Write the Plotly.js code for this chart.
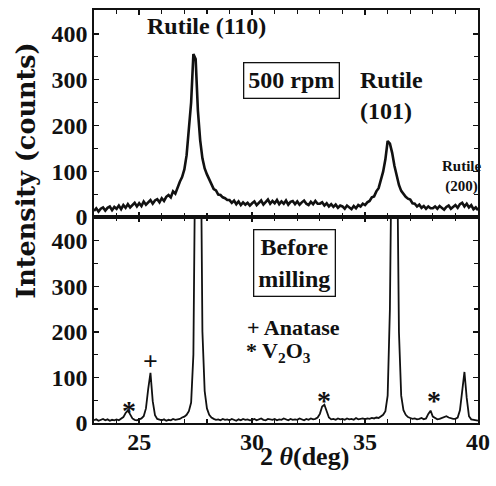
<!DOCTYPE html>
<html>
<head>
<meta charset="utf-8">
<script src="https://cdn.plot.ly/plotly-3.0.1.min.js"></script>
<style>html,body{margin:0;padding:0;background:#fff;}#chart{width:496px;height:486px;}</style>
</head>
<body>
<div id="chart"></div>
<script>
// 2-theta sampling grid (deg)
const twoTheta = [
  23.0,23.1,23.2,23.3,23.4,23.5,23.6,23.7,23.8,23.9,
  24.0,24.1,24.2,24.3,24.4,24.5,24.6,24.7,24.8,24.9,
  25.0,25.1,25.2,25.3,25.4,25.5,25.6,25.7,25.8,25.9,
  26.0,26.1,26.2,26.3,26.4,26.5,26.6,26.7,26.8,26.9,
  27.0,27.1,27.2,27.3,27.4,27.5,27.6,27.7,27.8,27.9,
  28.0,28.1,28.2,28.3,28.4,28.5,28.6,28.7,28.8,28.9,
  29.0,29.1,29.2,29.3,29.4,29.5,29.6,29.7,29.8,29.9,
  30.0,30.1,30.2,30.3,30.4,30.5,30.6,30.7,30.8,30.9,
  31.0,31.1,31.2,31.3,31.4,31.5,31.6,31.7,31.8,31.9,
  32.0,32.1,32.2,32.3,32.4,32.5,32.6,32.7,32.8,32.9,
  33.0,33.1,33.2,33.3,33.4,33.5,33.6,33.7,33.8,33.9,
  34.0,34.1,34.2,34.3,34.4,34.5,34.6,34.7,34.8,34.9,
  35.0,35.1,35.2,35.3,35.4,35.5,35.6,35.7,35.8,35.9,
  36.0,36.1,36.2,36.3,36.4,36.5,36.6,36.7,36.8,36.9,
  37.0,37.1,37.2,37.3,37.4,37.5,37.6,37.7,37.8,37.9,
  38.0,38.1,38.2,38.3,38.4,38.5,38.6,38.7,38.8,38.9,
  39.0,39.1,39.2,39.3,39.4,39.5,39.6,39.7,39.8,39.9,
  40.0
];

// Intensity (counts), after milling at 500 rpm (top panel)
const intensity500rpm = [
  13,19,12,18,21,14,20,23,15,22,
  18,25,17,26,20,28,21,27,31,23,
  30,24,34,27,32,37,29,36,39,32,
  41,35,44,48,43,56,51,65,77,87,
  104,135,185,250,356,345,232,168,128,106,
  93,81,71,61,58,49,48,43,41,37,
  37,31,36,28,34,26,32,27,31,25,
  30,34,26,32,36,27,33,38,29,35,
  30,37,28,34,29,36,27,33,35,28,
  34,27,32,36,29,26,33,28,35,29,
  29,32,25,30,23,28,22,27,20,25,
  23,18,25,20,17,24,19,26,23,29,
  26,32,35,43,45,56,63,81,99,126,
  166,160,140,112,88,70,57,50,44,40,
  38,30,29,23,27,20,24,18,23,19,
  19,23,18,24,19,16,22,25,18,23,
  26,20,28,31,23,29,21,26,17,21,
  15
];

// Intensity (counts), before milling (bottom panel)
const intensityBefore = [
  6,8,5,7,9,6,8,5,7,6,
  8,6,9,13,22,28,19,10,7,6,
  8,10,15,32,75,110,48,17,9,7,
  6,8,5,7,6,9,7,8,9,12,
  14,18,26,45,150,700,1200,800,200,70,
  32,18,12,9,7,8,6,9,7,8,
  6,9,7,5,8,6,9,7,8,6,
  7,9,6,8,10,7,6,9,8,7,
  9,6,8,7,10,8,6,9,7,8,
  7,10,8,6,9,7,10,8,9,12,
  20,36,40,24,12,8,9,7,10,8,
  9,7,10,8,9,7,11,8,9,10,
  8,10,9,11,10,12,11,14,18,26,
  60,250,800,1200,700,200,60,28,18,13,
  11,9,10,8,9,11,8,10,20,27,
  14,10,8,9,11,13,15,12,10,9,
  9,12,28,75,112,55,15,8,7,6,
  5
];

const xTickVals = [25, 30, 35, 40];
const yTickVals = [0, 100, 200, 300, 400];

const serif = "'Liberation Serif', 'Times New Roman', serif";
const ink = "#111";

const axisCommon = {
  showline: true, linecolor: ink, linewidth: 1.6, mirror: "ticks",
  ticks: "inside", ticklen: 5, tickwidth: 1.4, tickcolor: ink,
  showgrid: false, zeroline: false,
  tickfont: {family: serif, size: 24, color: ink, weight: 700}
};

const traces = [
  {x: twoTheta, y: intensity500rpm, xaxis: "x2", yaxis: "y2", type: "scatter", mode: "lines",
   line: {color: ink, width: 2.6}, hoverinfo: "skip"},
  {x: twoTheta, y: intensityBefore, xaxis: "x", yaxis: "y", type: "scatter", mode: "lines",
   line: {color: ink, width: 1.8}, hoverinfo: "skip"}
];

function txt(text, x, y, size, xref, yref, extra) {
  return Object.assign({text: text, x: x, y: y, xref: xref, yref: yref, showarrow: false,
    xanchor: "center", yanchor: "middle",
    font: {family: serif, size: size, color: ink, weight: 700}}, extra || {});
}

const annotations = [
  txt("Rutile (110)", 27.98, 418, 24, "x2", "y2"),
  txt("500 rpm", 31.76, 298, 24, "x2", "y2", {bordercolor: ink, borderwidth: 1.3, borderpad: 4}),
  txt("Rutile<br>(101)", 34.70, 265, 24, "x2", "y2", {xanchor: "left", align: "left"}),
  txt("Rutile<br>(200)", 39.28, 88, 15, "x2", "y2"),
  txt("Before<br>milling", 31.89, 350, 24, "x", "y", {bordercolor: ink, borderwidth: 1.3, borderpad: 4}),
  txt("+ Anatase", 29.70, 210, 22, "x", "y", {xanchor: "left"}),
  txt("* V<sub>2</sub>O<sub>3</sub>", 29.62, 155, 22, "x", "y", {xanchor: "left"}),
  txt("*", 24.53, 28, 28, "x", "y"),
  txt("+", 25.50, 136, 26, "x", "y"),
  txt("*", 33.20, 50, 28, "x", "y"),
  txt("*", 38.07, 50, 28, "x", "y"),
  txt("Intensity (counts)", -0.178, 0.61, 26, "paper", "paper", {textangle: -90,
    font: {family: "'DejaVu Serif', serif", size: 25.5, color: ink, weight: 700}}),
  txt("2 <i>θ</i>(deg)", 0.548, -0.082, 26, "paper", "paper")
];

const layout = {
  width: 496, height: 486,
  margin: {l: 93.5, r: 18, t: 10, b: 63},
  paper_bgcolor: "#fff", plot_bgcolor: "#fff",
  showlegend: false,
  xaxis: Object.assign({}, axisCommon, {domain: [0, 1], anchor: "y", range: [23, 40],
    tickvals: xTickVals, ticklabelstandoff: -3,
    minor: {dtick: 1, ticks: "inside", ticklen: 4, tickcolor: ink, tickwidth: 1.2}}),
  xaxis2: Object.assign({}, axisCommon, {domain: [0, 1], anchor: "y2", range: [23, 40], matches: "x",
    tickvals: xTickVals, showticklabels: false,
    minor: {dtick: 1, ticks: "inside", ticklen: 4, tickcolor: ink, tickwidth: 1.2}}),
  yaxis: Object.assign({}, axisCommon, {domain: [0, 0.4988], anchor: "x", range: [0, 452],
    tickvals: yTickVals, minor: {dtick: 50, ticks: "inside", ticklen: 4, tickcolor: ink, tickwidth: 1.2}}),
  yaxis2: Object.assign({}, axisCommon, {domain: [0.4988, 1], anchor: "x2", range: [0, 452],
    tickvals: yTickVals, minor: {dtick: 50, ticks: "inside", ticklen: 4, tickcolor: ink, tickwidth: 1.2}}),
  annotations: annotations
};

Plotly.newPlot("chart", traces, layout, {displayModeBar: false, staticPlot: true});
</script>
</body>
</html>
